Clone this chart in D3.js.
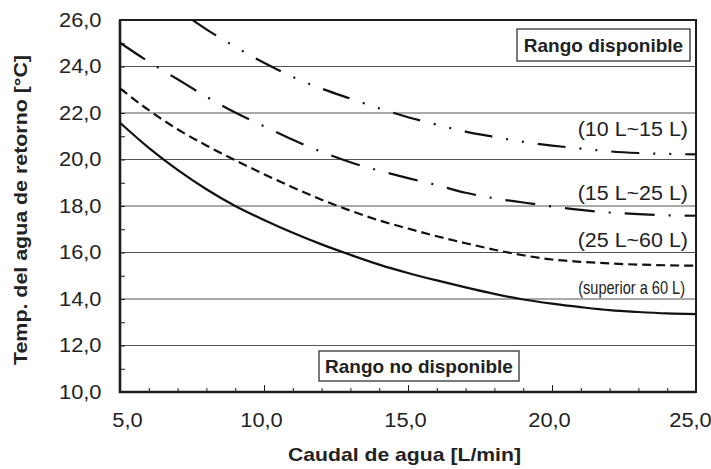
<!DOCTYPE html>
<html>
<head>
<meta charset="utf-8">
<script src="https://cdn.jsdelivr.net/npm/d3@7"></script>
<style>
  body { margin: 0; background: #fff; }
  svg { display: block; font-family: "Liberation Sans", Arial, sans-serif; }
</style>
</head>
<body>
<div id="vis"></div>
<script>
// flow [L/min] and return water temperature [°C] per tank volume
const flow = [5, 6, 7, 8, 9, 10, 11, 12, 13, 14, 15, 16, 17, 18, 19, 20, 21, 22, 23, 24, 25];
const tempAbove60 = [21.58, 20.5, 19.55, 18.72, 18.0, 17.4, 16.85, 16.35, 15.9, 15.48, 15.12, 14.8, 14.5, 14.22, 13.98, 13.8, 13.65, 13.52, 13.44, 13.38, 13.35];
const temp25to60 = [23.06, 22.12, 21.3, 20.6, 19.97, 19.37, 18.8, 18.27, 17.8, 17.38, 17.03, 16.7, 16.4, 16.12, 15.88, 15.7, 15.6, 15.53, 15.48, 15.45, 15.43];
const temp15to25 = [25.02, 24.2, 23.45, 22.7, 22.02, 21.43, 20.85, 20.33, 19.88, 19.52, 19.2, 18.9, 18.57, 18.33, 18.15, 17.98, 17.83, 17.72, 17.65, 17.6, 17.58];
// the 10-15 L curve enters the chart at the top border
const flow10to15 = [7.52, 8, 9, 10, 11, 12, 13, 14, 15, 16, 17, 18, 19, 20, 21, 22, 23, 24, 25];
const temp10to15 = [26.0, 25.6, 24.85, 24.16, 23.55, 23.05, 22.62, 22.2, 21.82, 21.5, 21.2, 20.97, 20.76, 20.6, 20.47, 20.35, 20.28, 20.24, 20.22];

const xTicks = [5, 10, 15, 20, 25];
const yTicks = [10, 12, 14, 16, 18, 20, 22, 24, 26];
const gridValues = [12, 14, 16, 18, 20, 22, 24];

const margin = { top: 20, right: 15, bottom: 77, left: 120 };
const width = 711 - margin.left - margin.right;
const height = 469 - margin.top - margin.bottom;
const ink = "#1e1e1e";

const svg = d3.select("#vis")
  .append("svg")
  .attr("width", 711)
  .attr("height", 469)
  .append("g")
  .attr("transform", `translate(${margin.left},${margin.top})`);

const x = d3.scaleLinear().domain([5, 25]).range([0, width]);
const y = d3.scaleLinear().domain([10, 26]).range([height, 0]);

const fmt = d => d.toFixed(1).replace(".", ",");

// stretch text a bit wider, the original font is wider than Arial
function stretch(sel, k) {
  sel.each(function() {
    const w = this.getComputedTextLength();
    d3.select(this).attr("textLength", w * k).attr("lengthAdjust", "spacingAndGlyphs");
  });
}

// grid
svg.append("g")
  .selectAll("line")
  .data(gridValues)
  .join("line")
  .attr("x1", 0).attr("x2", width)
  .attr("y1", d => y(d)).attr("y2", d => y(d))
  .attr("stroke", "#555")
  .attr("stroke-width", 1);

// minor ticks
svg.append("g")
  .call(d3.axisLeft(y).tickValues(d3.range(10, 27, 1)).tickSize(-5).tickFormat(""))
  .call(g => g.select(".domain").remove())
  .call(g => g.selectAll("line").attr("stroke", ink));

svg.append("g")
  .attr("transform", `translate(0,${height})`)
  .call(d3.axisBottom(x).tickValues(d3.range(5, 26, 1)).tickSize(-4).tickFormat(""))
  .call(g => g.select(".domain").remove())
  .call(g => g.selectAll("line").attr("stroke", ink));

// major axes
const yAxis = svg.append("g")
  .call(d3.axisLeft(y).tickValues(yTicks).tickSize(0).tickPadding(18.5).tickFormat(fmt))
  .call(g => g.select(".domain").remove());
yAxis.selectAll("text").attr("font-size", 19.5).attr("fill", "#222").call(stretch, 1.12);

const xAxis = svg.append("g")
  .attr("transform", `translate(0,${height})`)
  .call(d3.axisBottom(x).tickValues(xTicks).tickSize(-7).tickPadding(20.7).tickFormat(fmt))
  .call(g => g.select(".domain").remove())
  .call(g => g.selectAll("line").attr("stroke", ink));
xAxis.selectAll("text").attr("font-size", 19.5).attr("fill", "#222").call(stretch, 1.12);
xAxis.selectAll("text").attr("dx", d => d === 5 ? 7 : d === 25 ? -6 : -3);

// frame
svg.append("rect")
  .attr("x", 0).attr("y", 0)
  .attr("width", width).attr("height", height)
  .attr("fill", "none")
  .attr("stroke", ink)
  .attr("stroke-width", 2);
svg.append("path")
  .attr("d", `M0,0V${height}H${width}`)
  .attr("fill", "none")
  .attr("stroke", ink)
  .attr("stroke-width", 2.6);

// curves
const line = d3.line()
  .x(d => x(d[0]))
  .y(d => y(d[1]))
  .curve(d3.curveMonotoneX);

const series = [
  { xs: flow, ys: tempAbove60, dash: null },
  { xs: flow, ys: temp25to60, dash: "9,5" },
  { xs: flow, ys: temp15to25, dash: "30,14,2,14" },
  { xs: flow10to15, ys: temp10to15, dash: "28,14,2,14,2,14" }
];

series.forEach(s => {
  svg.append("path")
    .datum(d3.zip(s.xs, s.ys))
    .attr("fill", "none")
    .attr("stroke", "#111")
    .attr("stroke-width", 2.2)
    .attr("stroke-dasharray", s.dash)
    .attr("d", line);
});

// series labels
const labels = svg.append("g")
  .attr("font-size", 19.5)
  .attr("fill", "#222")
  .attr("text-anchor", "end");

labels.append("text").attr("x", 688 - margin.left).attr("y", 135.7 - margin.top).text("(10 L~15 L)").call(stretch, 1.1);
labels.append("text").attr("x", 688 - margin.left).attr("y", 200 - margin.top).text("(15 L~25 L)").call(stretch, 1.1);
labels.append("text").attr("x", 688 - margin.left).attr("y", 246.5 - margin.top).text("(25 L~60 L)").call(stretch, 1.1);
// condensed label, squeezed horizontally
labels.append("text")
  .attr("transform", `translate(${685 - margin.left},${294 - margin.top}) scale(0.81,1)`)
  .attr("font-size", 18)
  .text("(superior a 60 L)");

// range boxes
function box(x0, y0, w, h, txt) {
  const g = svg.append("g");
  g.append("rect")
    .attr("x", x0 - margin.left).attr("y", y0 - margin.top)
    .attr("width", w).attr("height", h)
    .attr("fill", "#fff")
    .attr("stroke", "#333")
    .attr("stroke-width", 1.3);
  g.append("text")
    .attr("x", x0 - margin.left + w / 2)
    .attr("y", y0 - margin.top + h / 2 + 7)
    .attr("text-anchor", "middle")
    .attr("font-size", 19)
    .attr("font-weight", "bold")
    .attr("fill", "#222")
    .text(txt);
}
box(517, 29, 173, 32, "Rango disponible");
box(319, 351, 200, 30, "Rango no disponible");

// axis titles
svg.append("text")
  .attr("x", 404.5 - margin.left)
  .attr("y", 461 - margin.top)
  .attr("text-anchor", "middle")
  .attr("font-size", 19)
  .attr("font-weight", "bold")
  .attr("fill", "#222")
  .attr("textLength", 233).attr("lengthAdjust", "spacingAndGlyphs")
  .text("Caudal de agua [L/min]");

svg.append("text")
  .attr("transform", `translate(${27 - margin.left},${210 - margin.top}) rotate(-90)`)
  .attr("text-anchor", "middle")
  .attr("font-size", 19)
  .attr("font-weight", "bold")
  .attr("fill", "#222")
  .attr("textLength", 310).attr("lengthAdjust", "spacingAndGlyphs")
  .text("Temp. del agua de retorno [°C]");
</script>
</body>
</html>
